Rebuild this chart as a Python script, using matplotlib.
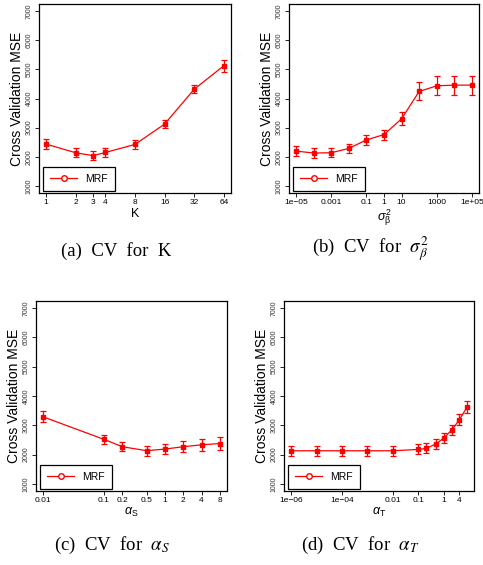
import matplotlib
matplotlib.use('Agg')
import matplotlib.pyplot as plt
import numpy as np

plt.rcParams['font.family'] = ['Liberation Sans', 'DejaVu Sans']
plt.rcParams['mathtext.fontset'] = 'custom'
plt.rcParams['mathtext.rm'] = 'Liberation Sans'
plt.rcParams['mathtext.it'] = 'Liberation Sans:italic'

# (a) K
k_vals = [1, 2, 3, 4, 8, 16, 32, 64]
k_mse = [2435, 2140, 2040, 2150, 2425, 3125, 4320, 5125]
k_err = [180, 160, 160, 160, 150, 150, 135, 200]
k_ticks = [1, 2, 3, 4, 8, 16, 32, 64]
k_labels = ['1', '2', '3', '4', '8', '16', '32', '64']

# (b) sigma_beta^2
s_vals = [1e-5, 1e-4, 1e-3, 1e-2, 0.1, 1, 10, 100, 1000, 1e4, 1e5]
s_mse = [2198, 2130, 2140, 2288, 2580, 2763, 3305, 4243, 4435, 4458, 4458]
s_err = [160, 160, 160, 160, 160, 170, 230, 310, 330, 330, 330]
s_ticks = [1e-5, 1e-3, 0.1, 1, 10, 1000, 1e5]
s_labels = ['1e\u221205', '0.001', '0.1', '1', '10', '1000', '1e+05']

# (c) alpha_S
as_vals = [0.01, 0.1, 0.2, 0.5, 1, 2, 4, 8]
as_mse = [3290, 2520, 2270, 2135, 2190, 2270, 2335, 2380]
as_err = [185, 150, 150, 170, 180, 190, 200, 210]
as_ticks = [0.01, 0.1, 0.2, 0.5, 1, 2, 4, 8]
as_labels = ['0.01', '0.1', '0.2', '0.5', '1', '2', '4', '8']

# (d) alpha_T
at_vals = [1e-6, 1e-5, 1e-4, 1e-3, 1e-2, 0.1, 0.2, 0.5, 1, 2, 4, 8]
at_mse = [2132, 2132, 2132, 2132, 2132, 2178, 2212, 2370, 2574, 2835, 3186, 3616]
at_err = [170, 170, 170, 170, 170, 170, 170, 170, 180, 180, 190, 200]
at_ticks = [1e-6, 1e-4, 0.01, 0.1, 1, 4]
at_labels = ['1e\u221206', '1e\u221204', '0.01', '0.1', '1', '4']

W, H = 483, 565
fig = plt.figure(figsize=(W / 100, H / 100), dpi=100)


def panel(rect, x, y, err, ticks, labels, xlabel, caption, cap_xy):
    left, bottom, w, h = rect
    ax = fig.add_axes([left / W, 1 - bottom / H, w / W, h / H])
    ax.set_xscale('log')
    ax.errorbar(x, y, yerr=err, color='red', lw=0.9, marker='s', ms=2.5,
                capsize=2, elinewidth=0.9, capthick=0.9)
    lx = np.log10(x[0]), np.log10(x[-1])
    pad = 0.04 * (lx[1] - lx[0])
    ax.set_xlim(10 ** (lx[0] - pad), 10 ** (lx[1] + pad))
    ax.set_ylim(760, 7240)
    ax.set_yticks(range(1000, 7001, 1000))
    ax.set_yticklabels([str(v) for v in range(1000, 7001, 1000)],
                       rotation=90, va='center', fontsize=5, color='#333333')
    ax.set_xticks(ticks)
    ax.set_xticklabels(labels, fontsize=6)
    ax.xaxis.set_minor_locator(matplotlib.ticker.NullLocator())
    ax.tick_params(length=3, width=0.6, pad=1.5)
    ax.set_ylabel('Cross Validation MSE', fontsize=10, labelpad=1)
    ax.set_xlabel(xlabel, fontsize=9, labelpad=1)
    for s in ax.spines.values():
        s.set_linewidth(0.9)
    h_line, = ax.plot([], [], color='red', lw=0.9, marker='o', ms=4,
                      mfc='white', mec='red')
    leg = ax.legend([h_line], ['MRF'], loc='lower left',
                    bbox_to_anchor=(0.02, 0.01), borderaxespad=0,
                    fontsize=7.5, handlelength=2.6, fancybox=False,
                    framealpha=1, edgecolor='black', borderpad=0.7)
    leg.get_frame().set_linewidth(0.9)
    fig.text(cap_xy[0] / W, 1 - cap_xy[1] / H, caption, ha='center',
             va='center', fontsize=13.5, family='Liberation Serif',
             math_fontfamily='stix')
    return ax


panel((39, 193, 192, 189), k_vals, k_mse, k_err, k_ticks, k_labels,
      'K', '(a)  CV  for  K', (116, 251))
panel((289, 193, 190, 189), s_vals, s_mse, s_err, s_ticks, s_labels,
      r'$\sigma_{\mathrm{\beta}}^2$', r'(b)  CV  for  $\sigma_\beta^2$', (370, 249))
panel((36, 491, 191, 190), as_vals, as_mse, as_err, as_ticks, as_labels,
      r'$\alpha_{\mathrm{S}}$', r'(c)  CV  for  $\alpha_S$', (112, 545))
panel((284, 491, 190, 190), at_vals, at_mse, at_err, at_ticks, at_labels,
      r'$\alpha_{\mathrm{T}}$', r'(d)  CV  for  $\alpha_T$', (360, 545))

fig.savefig('out.png', dpi=100)
